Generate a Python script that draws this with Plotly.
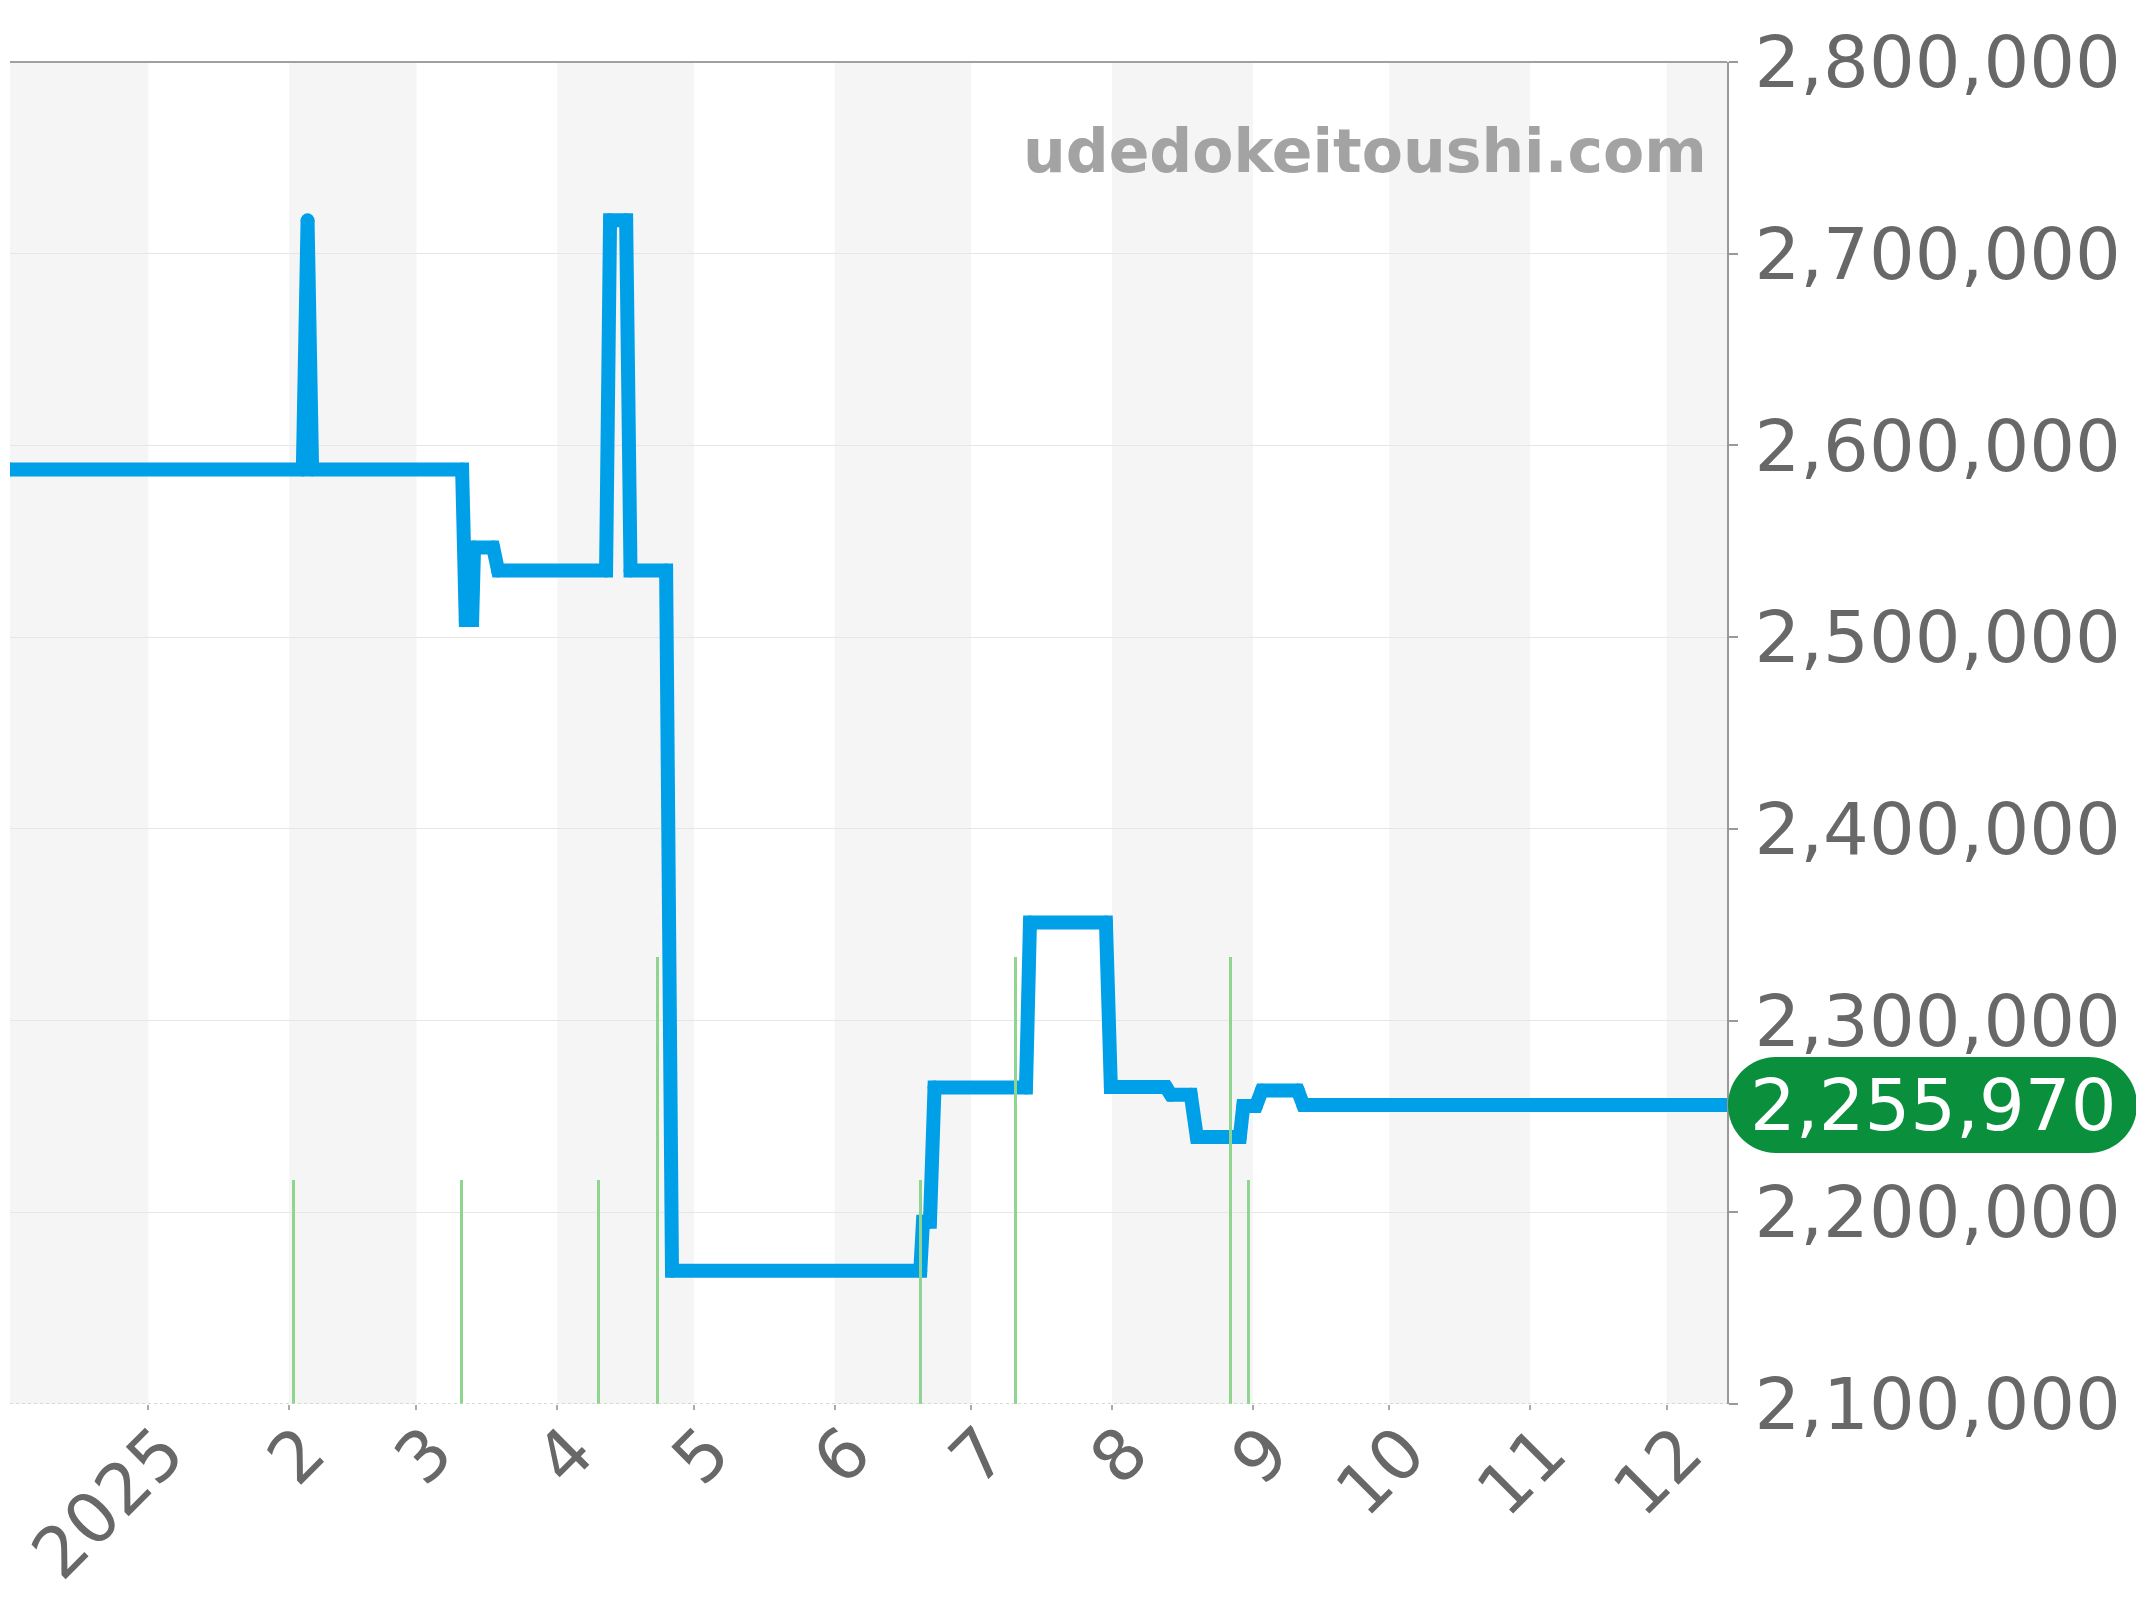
import plotly.graph_objects as go

# ---- data ----
price_dates = [
    "2024-12-01 14:00", "2025-02-04 00:00", "2025-02-05 01:00", "2025-02-06 01:00",
    "2025-03-11 01:00", "2025-03-11 20:00", "2025-03-13 06:00", "2025-03-13 16:00",
    "2025-03-17 21:00", "2025-03-18 23:00", "2025-04-11 17:00", "2025-04-12 14:00",
    "2025-04-16 03:00", "2025-04-17 02:00", "2025-04-24 22:00", "2025-04-26 05:00",
    "2025-06-19 20:00", "2025-06-20 10:00", "2025-06-21 23:00", "2025-06-22 23:00",
    "2025-07-13 02:00", "2025-07-13 23:00", "2025-07-30 16:00", "2025-07-31 18:00",
    "2025-08-12 21:00", "2025-08-13 23:00", "2025-08-18 08:00", "2025-08-19 16:00",
    "2025-08-29 03:00", "2025-08-29 21:00", "2025-09-01 16:00", "2025-09-02 23:00",
    "2025-09-10 21:00", "2025-09-12 02:00", "2025-12-14 07:00",
]
prices = [
    2587500, 2587500, 2717400, 2587500,
    2587500, 2509000, 2509000, 2546800,
    2546800, 2534700, 2534700, 2717400,
    2717400, 2534700, 2534700, 2169500,
    2169500, 2195000, 2195000, 2265100,
    2265100, 2351200, 2351200, 2265300,
    2265300, 2261300, 2261300, 2239300,
    2239300, 2255500, 2255500, 2263500,
    2263500, 2255970, 2255970,
]

volume_dates = [
    "2025-02-01 23:00", "2025-03-10 20:00", "2025-04-10 00:00", "2025-04-22 22:00",
    "2025-06-19 20:00", "2025-07-10 21:00", "2025-08-27 01:00", "2025-08-31 01:00",
]
volume_counts = [1, 1, 1, 2, 1, 2, 2, 1]

month_starts = ["2024-12-01", "2025-01-01", "2025-02-01", "2025-03-01", "2025-04-01",
                "2025-05-01", "2025-06-01", "2025-07-01", "2025-08-01", "2025-09-01",
                "2025-10-01", "2025-11-01", "2025-12-01", "2026-01-01"]
tick_vals = month_starts[1:13]
tick_text = ["2025", "2", "3", "4", "5", "6", "7", "8", "9", "10", "11", "12"]

y_ticks = [2100000, 2200000, 2300000, 2400000, 2500000, 2600000, 2700000, 2800000]

FONT = "DejaVu Sans"
GRAY_TXT = "#686868"
BLUE = "#00a0e9"
GREEN_BAR = "#8fd48f"
BADGE = "#0a8f3c"

fig = go.Figure()

fig.add_trace(go.Bar(
    x=volume_dates, y=volume_counts, yaxis="y2",
    marker=dict(color=GREEN_BAR, line=dict(width=0)),
    width=0.66 * 86400000, hoverinfo="skip", showlegend=False,
))

fig.add_trace(go.Scatter(
    x=price_dates, y=prices, mode="lines+markers",
    line=dict(color=BLUE, width=14),
    marker=dict(color=BLUE, size=14, line=dict(width=0)),
    showlegend=False,
))

# alternating month bands
shapes = []
for i in range(0, len(month_starts) - 1, 2):
    shapes.append(dict(type="rect", xref="x", yref="paper",
                       x0=month_starts[i], x1=month_starts[i + 1], y0=0, y1=1,
                       fillcolor="#f5f5f5", line=dict(width=0), layer="below"))
# top border
shapes.append(dict(type="line", xref="paper", yref="paper", x0=0, x1=1, y0=1, y1=1,
                   line=dict(color="#a0a0a0", width=2)))
# dotted baseline of the volume bars
shapes.append(dict(type="line", xref="paper", yref="y2", x0=0, x1=1, y0=0, y1=0,
                   line=dict(color="#b8dcb8", width=1.5, dash="dot")))

# pill badge for the last price
last = prices[-1]
W, R = 409, 48
k = 0.5523 * R
x0, x1 = 1, 1 + W
path = (f"M {x0+R},{-R} L {x1-R},{-R} "
        f"C {x1-R+k},{-R} {x1},{-k} {x1},0 "
        f"C {x1},{k} {x1-R+k},{R} {x1-R},{R} "
        f"L {x0+R},{R} "
        f"C {x0+R-k},{R} {x0},{k} {x0},0 "
        f"C {x0},{-k} {x0+R-k},{-R} {x0+R},{-R} Z")
shapes.append(dict(type="path", xref="paper", yref="y",
                   xsizemode="pixel", ysizemode="pixel",
                   xanchor=1, yanchor=last, path=path,
                   fillcolor=BADGE, line=dict(width=0), layer="above"))

annotations = [
    dict(xref="paper", yref="y", x=1, y=last, xshift=x0 + W / 2, xanchor="center",
         yanchor="middle", text=f"{last:,}", showarrow=False,
         font=dict(family=FONT, size=72, color="white")),
    dict(xref="paper", yref="paper", x=0.9895, y=0.934, xanchor="right", yanchor="middle",
         text="udedokeitoushi.com", showarrow=False,
         font=dict(family=FONT, size=60, color="#a3a3a3", weight="bold")),
]

# the page body has an 8px margin, so the figure is sized/margined to compensate
fig.update_layout(
    width=2136, height=1592,
    margin=dict(l=2, r=417, t=54, b=196, autoexpand=False),
    paper_bgcolor="white", plot_bgcolor="white",
    shapes=shapes, annotations=annotations,
    bargap=0,
    xaxis=dict(
        type="date", range=[price_dates[0], price_dates[-1]],
        tickvals=tick_vals, ticktext=tick_text, tickangle=-45,
        ticks="", ticklabelshift=15, ticklabelstandoff=-8,
        ticklabeloverflow="allow",
        minor=dict(tickvals=tick_vals, ticks="outside", ticklen=5, tickwidth=1.5,
                   tickcolor="#aaaaaa", showgrid=False),
        tickfont=dict(family=FONT, size=70, color=GRAY_TXT),
        showgrid=False, zeroline=False, showline=False, automargin=False,
    ),
    yaxis=dict(
        side="right", range=[2100000, 2800000], tickvals=y_ticks,
        tickformat=",d", ticks="outside", ticklen=9, tickwidth=1.5, tickcolor="#999999",
        tickfont=dict(family=FONT, size=72, color=GRAY_TXT),
        showline=True, linecolor="#999999", linewidth=2,
        showgrid=True, gridcolor="#e6e6e6", gridwidth=1, zeroline=False,
        automargin=False, ticklabelstandoff=2,
    ),
    yaxis2=dict(overlaying="y", range=[0, 6], visible=False, showgrid=False),
)

fig.write_html("out.html")
